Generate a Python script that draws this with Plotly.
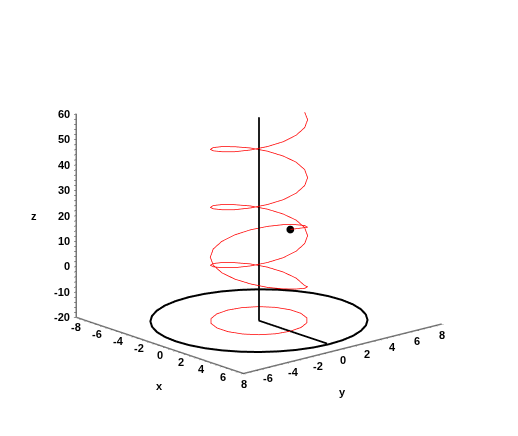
import plotly.graph_objects as go

# main coil, read from top end to the lower cusp
coil_x = [1.03, 1.93, 2.60, 2.95, 2.95, 2.60, 1.93, 1.03, 0, -1.03, -1.93, -2.60, -2.95, -2.95, -2.60, -1.93, -1.03, 0,
          1.03, 1.93, 2.60, 2.95, 2.95, 2.60, 1.93, 1.03, 0, -1.03, -1.93, -2.60, -2.95, -2.95, -2.60, -1.93, -1.03, 0,
          1.03, 1.93, 2.60, 2.95, 2.95, 2.60, 1.93, 1.03, 0, -1.03, -1.93, -2.60, -2.95, -2.95, -2.60, -1.93, -1.03, 0,
          1.03]
coil_y = [2.82, 2.30, 1.50, 0.52, -0.52, -1.50, -2.30, -2.82, -3, -2.82, -2.30, -1.50, -0.52, 0.52, 1.50, 2.30, 2.82, 3,
          2.82, 2.30, 1.50, 0.52, -0.52, -1.50, -2.30, -2.82, -3, -2.82, -2.30, -1.50, -0.52, 0.52, 1.50, 2.30, 2.82, 3,
          2.82, 2.30, 1.50, 0.52, -0.52, -1.50, -2.30, -2.82, -3, -2.82, -2.30, -1.50, -0.52, 0.52, 1.50, 2.30, 2.82, 3,
          2.82]
coil_z = [60.0, 58.9, 57.7, 56.4, 55.1, 53.9, 52.6, 51.3, 50.1, 48.8,
          47.5, 46.3, 45.0, 43.7, 42.5, 41.2, 39.9, 38.7, 37.4, 36.1,
          34.9, 33.6, 32.3, 31.1, 29.8, 28.5, 27.3, 26.0, 24.7, 23.5,
          22.2, 20.9, 19.7, 18.4, 17.1, 15.9, 14.6, 13.3, 12.1, 10.8,
          9.5, 8.3, 7.0, 5.7, 4.5, 3.2, 1.9, 0.7, -0.6, -1.9,
          -3.1, -4.4, -5.7, -6.9, -8.2]

# second coil going back up from the cusp, ends at the dot
back_x = [1.03, 1.93, 2.60, 2.95, 2.95, 2.60, 1.93, 1.03, 0, -1.03, -1.93, -2.60, -2.95, -2.95, -2.60, -1.93, -1.03, 0,
          1.03, 1.93, 1.24]
back_y = [2.82, 2.30, 1.50, 0.52, -0.52, -1.50, -2.30, -2.82, -3, -2.82, -2.30, -1.50, -0.52, 0.52, 1.50, 2.30, 2.82, 3,
          2.82, 2.30, 1.48]
back_z = [-8.2, -6.8, -5.5, -4.1, -2.8, -1.5, -0.1, 1.2, 2.5, 3.8, 5.1, 6.4, 7.7, 9.0, 10.3, 11.6, 12.9, 14.1,
          15.4, 16.6, 15.8]

# red circle on the floor
ring_x = [3, 2.82, 2.30, 1.50, 0.52, -0.52, -1.50, -2.30, -2.82, -3, -2.82, -2.30, -1.50, -0.52, 0.52, 1.50, 2.30, 2.82, 3]
ring_y = [0, 1.03, 1.93, 2.60, 2.95, 2.95, 2.60, 1.93, 1.03, 0, -1.03, -1.93, -2.60, -2.95, -2.95, -2.60, -1.93, -1.03, 0]
ring_z = [-20] * 19

# black circle on the floor
disc_x = [6.70, 6.60, 6.30, 5.80, 5.13, 4.31, 3.35, 2.29, 1.16, 0, -1.16, -2.29, -3.35, -4.31, -5.13, -5.80, -6.30, -6.60,
          -6.70, -6.60, -6.30, -5.80, -5.13, -4.31, -3.35, -2.29, -1.16, 0, 1.16, 2.29, 3.35, 4.31, 5.13, 5.80, 6.30, 6.60, 6.70]
disc_y = [0, 1.16, 2.29, 3.35, 4.31, 5.13, 5.80, 6.30, 6.60, 6.70, 6.60, 6.30, 5.80, 5.13, 4.31, 3.35, 2.29, 1.16,
          0, -1.16, -2.29, -3.35, -4.31, -5.13, -5.80, -6.30, -6.60, -6.70, -6.60, -6.30, -5.80, -5.13, -4.31, -3.35, -2.29, -1.16, 0]
disc_z = [-20] * 37

# vertical shaft and radius
shaft_x = [0, 0, 6.5]
shaft_y = [0, 0, 0]
shaft_z = [60, -20, -20]

dot_x = [1.24]
dot_y = [1.48]
dot_z = [15.8]

x_labels = [-8, -6, -4, -2, 0, 2, 4, 6, 8]
y_labels = [-6, -4, -2, 0, 2, 4, 6, 8]
z_labels = [-20, -10, 0, 10, 20, 30, 40, 50, 60]

# small tick marks along the axes
xy_ticks = [-8, -7.5, -7, -6.5, -6, -5.5, -5, -4.5, -4, -3.5, -3, -2.5, -2, -1.5, -1, -0.5, 0,
            0.5, 1, 1.5, 2, 2.5, 3, 3.5, 4, 4.5, 5, 5.5, 6, 6.5, 7, 7.5, 8]
z_ticks = [-20, -18, -16, -14, -12, -10, -8, -6, -4, -2, 0, 2, 4, 6, 8, 10, 12, 14, 16, 18, 20,
           22, 24, 26, 28, 30, 32, 34, 36, 38, 40, 42, 44, 46, 48, 50, 52, 54, 56, 58, 60]

fig = go.Figure()
fig.add_trace(go.Scatter3d(x=coil_x, y=coil_y, z=coil_z, mode="lines", line=dict(color="#ff0000", width=1.5)))
fig.add_trace(go.Scatter3d(x=back_x, y=back_y, z=back_z, mode="lines", line=dict(color="#ff0000", width=1.5)))
fig.add_trace(go.Scatter3d(x=ring_x, y=ring_y, z=ring_z, mode="lines", line=dict(color="#ff0000", width=1.5)))
fig.add_trace(go.Scatter3d(x=disc_x, y=disc_y, z=disc_z, mode="lines", line=dict(color="#000000", width=4)))
fig.add_trace(go.Scatter3d(x=shaft_x, y=shaft_y, z=shaft_z, mode="lines", line=dict(color="#000000", width=3.5)))
fig.add_trace(go.Scatter3d(x=dot_x, y=dot_y, z=dot_z, mode="markers", marker=dict(color="#000000", size=4.5)))

label_font = dict(family="Liberation Sans", size=11, color="#000000", weight="bold")
axis_style = dict(
    showgrid=False, zeroline=False, showbackground=False, showspikes=False,
    showline=True, linecolor="#777777", linewidth=3,
    ticks="outside", ticklen=3, tickwidth=1, tickcolor="#333333",
    showticklabels=False, title=dict(text=""),
)

# tick labels and axis titles sit as annotations so they can match the original offsets
notes = []
for v in x_labels:
    notes.append(dict(x=v, y=-8, z=-20, text=str(v), showarrow=False, font=label_font, yshift=-10))
for v in y_labels:
    notes.append(dict(x=8, y=v, z=-20, text=str(v), showarrow=False, font=label_font, yshift=-11))
for v in z_labels:
    notes.append(dict(x=-8, y=-8, z=v, text=str(v), showarrow=False, font=label_font,
                      xanchor="right", xshift=-4))
notes.append(dict(x=0, y=-8, z=-20, text="x", showarrow=False, font=label_font, yshift=-41))
notes.append(dict(x=8, y=0, z=-20, text="y", showarrow=False, font=label_font, yshift=-43))
notes.append(dict(x=-8, y=-8, z=20, text="z", showarrow=False, font=label_font, xshift=-42))

fig.update_layout(
    width=518, height=436,
    showlegend=False,
    paper_bgcolor="white",
    margin=dict(l=0, r=0, t=0, b=0),
    scene=dict(
        domain=dict(x=[0, 1], y=[0, 1]),
        aspectmode="manual",
        aspectratio=dict(x=1.175, y=1.2, z=0.975),
        camera=dict(
            projection=dict(type="orthographic"),
            eye=dict(x=1.264, y=-1.041, z=0.462),
            center=dict(x=0.031, y=0.022, z=-0.031),
            up=dict(x=0, y=0, z=1),
        ),
        xaxis=dict(range=[-8, 8], tickvals=xy_ticks, **axis_style),
        yaxis=dict(range=[-8, 8], tickvals=xy_ticks, **axis_style),
        zaxis=dict(range=[-20, 60], tickvals=z_ticks, **axis_style),
        annotations=notes,
    ),
)

fig.write_html("out.html")
